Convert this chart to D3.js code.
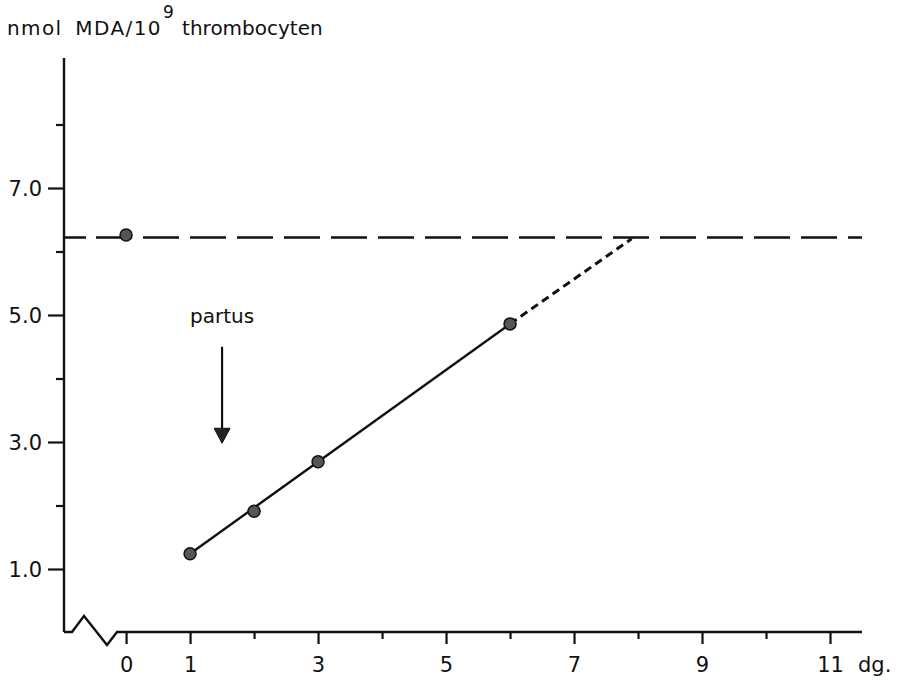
<!DOCTYPE html>
<html>
<head>
<meta charset="utf-8">
<script src="https://cdn.jsdelivr.net/npm/d3@7"></script>
<style>
  html, body { margin: 0; padding: 0; background: #fff; }
  svg { display: block; }
  text { font-family: "DejaVu Sans", sans-serif; fill: #111; }
</style>
</head>
<body>
<svg id="chart" width="902" height="682"></svg>
<script>
// ---- data ----
const days = [0, 1, 2, 3, 6];
const mdaValues = [6.26, 1.24, 1.91, 2.69, 4.86];
const fitDays = [1, 6];
const fitValues = [1.24, 4.86];
const extrapDays = [6, 7.9];
const extrapValues = [4.86, 6.2];
const normalLevel = 6.22;
const normalDays = [-0.97, 11.5];
const partusDay = 1.5;
const partusFrom = 4.5;
const partusTo = 2.98;
const partusLabelValue = 4.88;
const xTickDays = [0, 1, 2, 3, 4, 5, 6, 7, 8, 9, 10, 11];
const xTickLabels = ["0", "1", "", "3", "", "5", "", "7", "", "9", "", "11"];
const yTickValues = [1, 2, 3, 4, 5, 6, 7, 8];
const yTickLabels = ["1.0", "", "3.0", "", "5.0", "", "7.0", ""];
const yTitle = "nmol MDA/10";
const yTitleSup = "9";
const yTitleRest = " thrombocyten";
const xUnit = "dg.";
const partusText = "partus";

// ---- scales ----
const svg = d3.select("#chart");
const x = d3.scaleLinear().domain([-0.97, 11.5]).range([64, 862]);
const y = d3.scaleLinear().domain([0, 9]).range([632.5, 61]);
const x0 = x(-0.97), y0 = 632;

// ---- y axis ----
const yAxis = d3.axisLeft(y)
  .tickValues(yTickValues)
  .tickSize(0)
  .tickFormat((d, i) => yTickLabels[i]);
const gy = svg.append("g").attr("transform", `translate(${x0},0)`).call(yAxis);
gy.select(".domain").remove();
gy.selectAll(".tick text")
  .attr("x", -22).attr("dy", "0.36em")
  .style("font-size", "21px").style("font-family", "DejaVu Sans, sans-serif")
  .attr("fill", "#111");
gy.selectAll(".tick").append("line")
  .attr("x1", 0)
  .attr("x2", (d, i) => yTickLabels[i] ? -16 : -8)
  .attr("stroke", "#111").attr("stroke-width", 2.2);
svg.append("line")
  .attr("x1", x0).attr("x2", x0).attr("y1", 58).attr("y2", y0)
  .attr("stroke", "#111").attr("stroke-width", 2.4);

// ---- x axis ----
const xAxis = d3.axisBottom(x)
  .tickValues(xTickDays)
  .tickSize(0)
  .tickFormat((d, i) => xTickLabels[i]);
const gx = svg.append("g").attr("transform", `translate(0,${y0})`).call(xAxis);
gx.select(".domain").remove();
gx.selectAll(".tick text")
  .attr("y", 40).attr("dy", 0)
  .style("font-size", "21px").style("font-family", "DejaVu Sans, sans-serif")
  .attr("fill", "#111");
gx.selectAll(".tick").append("line")
  .attr("y1", 0)
  .attr("y2", (d, i) => xTickLabels[i] ? 12 : 7)
  .attr("stroke", "#111").attr("stroke-width", 2.2);

// axis line with break
svg.append("path")
  .attr("d", `M${x0},${y0} L${x0 + 8},${y0} L${x0 + 20},${y0 - 16} L${x0 + 43},${y0 + 13} L${x0 + 53},${y0} L${x(11.5)},${y0}`)
  .attr("fill", "none").attr("stroke", "#111").attr("stroke-width", 2.4)
  .attr("stroke-linejoin", "miter");

svg.append("text")
  .attr("x", x(11) + 28).attr("y", y0 + 40)
  .style("font-size", "21px")
  .text(xUnit);

// ---- title ----
const t = svg.append("text").attr("x", 7).attr("y", 35).style("font-size", "20px");
t.append("tspan").text(yTitle).attr("letter-spacing", "1.4px").attr("word-spacing", "5px");
t.append("tspan").text(yTitleSup).attr("dy", -17).attr("dx", 1).style("font-size", "17px");
t.append("tspan").text(yTitleRest).attr("dy", 17).attr("dx", 2);

// ---- normal level dashed line ----
svg.append("line")
  .attr("x1", x(normalDays[0])).attr("x2", x(normalDays[1]))
  .attr("y1", y(normalLevel)).attr("y2", y(normalLevel))
  .attr("stroke", "#111").attr("stroke-width", 2.6)
  .attr("stroke-dasharray", "22,10,36,11,36,11,36,11,36,11,36,11,36,11,36,11,36,11,36,11,36,11,36,11,36,11,36,11,36,11,36,11,36,11");

// ---- regression line ----
const line = d3.line().x(d => x(d[0])).y(d => y(d[1]));
svg.append("path")
  .datum(d3.zip(fitDays, fitValues))
  .attr("d", line)
  .attr("fill", "none").attr("stroke", "#111").attr("stroke-width", 2.4);
svg.append("path")
  .datum(d3.zip(extrapDays, extrapValues))
  .attr("d", line)
  .attr("fill", "none").attr("stroke", "#111").attr("stroke-width", 3)
  .attr("stroke-dasharray", "8,5");

// ---- points ----
svg.selectAll("circle.pt")
  .data(d3.zip(days, mdaValues))
  .join("circle")
  .attr("class", "pt")
  .attr("cx", d => x(d[0])).attr("cy", d => y(d[1]))
  .attr("r", 6)
  .attr("fill", "#555").attr("stroke", "#111").attr("stroke-width", 1.5);

// ---- partus arrow ----
const ax = x(partusDay);
const tipY = y(partusTo);
svg.append("line")
  .attr("x1", ax).attr("x2", ax)
  .attr("y1", y(partusFrom)).attr("y2", tipY - 12)
  .attr("stroke", "#111").attr("stroke-width", 2.2);
svg.append("path")
  .attr("d", `M${ax - 8},${tipY - 15} L${ax + 8},${tipY - 15} L${ax},${tipY} Z`)
  .attr("fill", "#222").attr("stroke", "#111").attr("stroke-width", 1);
svg.append("text")
  .attr("x", ax).attr("y", y(partusLabelValue))
  .attr("text-anchor", "middle")
  .style("font-size", "20px")
  .text(partusText);
</script>
</body>
</html>
